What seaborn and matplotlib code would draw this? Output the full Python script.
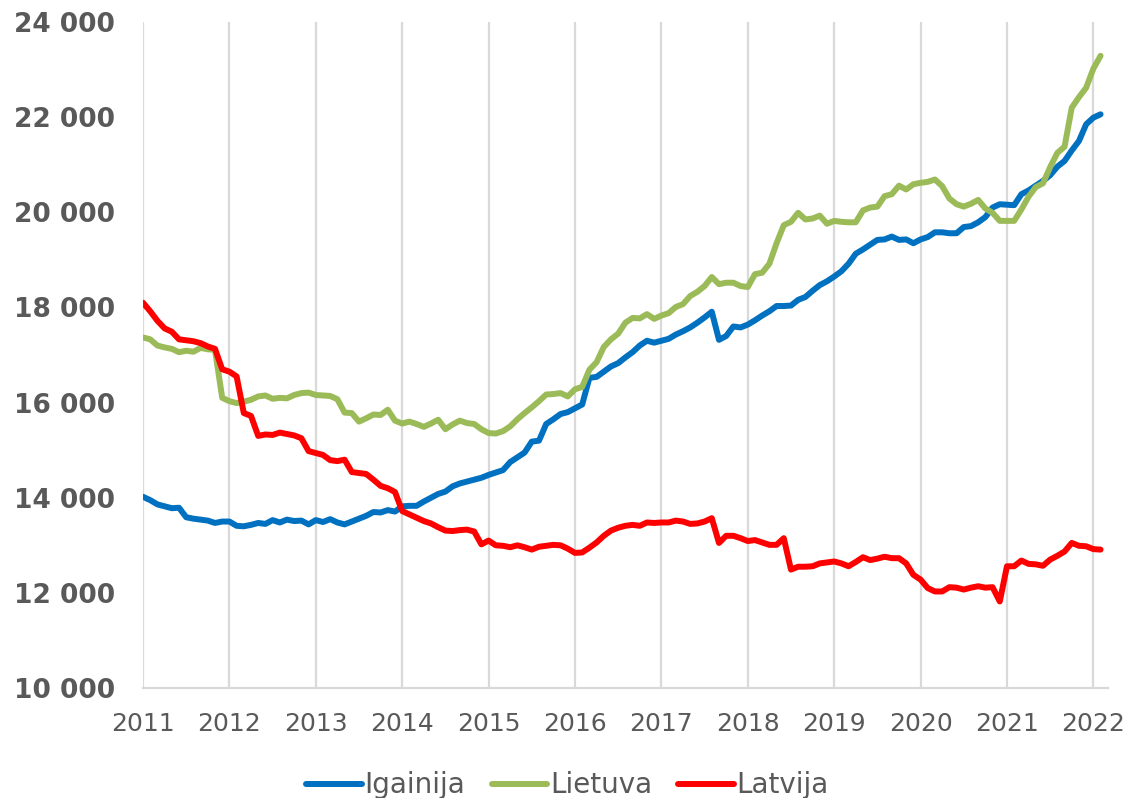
import numpy as np
import pandas as pd
import matplotlib
matplotlib.use("Agg")
import matplotlib.pyplot as plt
import seaborn as sns

# monthly values, Jan 2011 .. Feb 2022
years = list(range(2011, 2023))

igainija = [
    14020, 13950, 13860, 13820, 13780, 13790, 13590, 13560, 13540, 13520, 13470, 13500,
    13500, 13410, 13400, 13430, 13470, 13450, 13530, 13480, 13540, 13510, 13520, 13440,
    13530, 13490, 13550, 13480, 13440, 13500, 13560, 13620, 13700, 13690, 13740, 13710,
    13820, 13830, 13830, 13920, 14000, 14080, 14130, 14240, 14300, 14340, 14380, 14420,
    14480, 14530, 14580, 14750, 14850, 14950, 15180, 15200, 15550, 15650, 15760, 15800,
    15880, 15960, 16520, 16540, 16650, 16760, 16830, 16950, 17060, 17200, 17300, 17260,
    17300, 17340, 17430, 17500, 17580, 17680, 17790, 17910, 17320, 17400, 17600, 17580,
    17640, 17730, 17830, 17920, 18030, 18030, 18040, 18160, 18220, 18350, 18470, 18550,
    18650, 18760, 18920, 19130, 19220, 19320, 19420, 19430, 19490, 19420, 19430, 19350,
    19430, 19480, 19580, 19580, 19560, 19560, 19690, 19710, 19790, 19900, 20100, 20170,
    20160, 20150, 20380, 20460, 20560, 20660, 20780, 20960, 21080, 21300, 21500, 21850,
    21990, 22060,
]

lietuva = [
    17370, 17330, 17200, 17160, 17130, 17060, 17090, 17070, 17150, 17120, 17110, 16100,
    16030, 15990, 16020, 16060, 16130, 16150, 16080, 16100, 16090, 16160, 16200, 16210,
    16160, 16150, 16140, 16070, 15790, 15780, 15600, 15670, 15750, 15740, 15850, 15620,
    15560, 15600, 15550, 15490, 15560, 15640, 15440, 15540, 15620, 15570, 15550, 15440,
    15360, 15350, 15400, 15500, 15650, 15780, 15900, 16030, 16170, 16180, 16200, 16130,
    16280, 16330, 16690, 16850, 17170, 17330, 17450, 17680, 17780, 17770, 17860, 17760,
    17830, 17880, 18010, 18070, 18240, 18330, 18450, 18640, 18490, 18520, 18520, 18450,
    18430, 18700, 18730, 18920, 19350, 19730, 19800, 19990, 19850, 19870, 19930, 19760,
    19820, 19800, 19790, 19790, 20040, 20100, 20120, 20340, 20380, 20560, 20480, 20590,
    20620, 20640, 20690, 20550, 20290, 20170, 20120, 20180, 20260, 20080, 19990, 19820,
    19820, 19820, 20060, 20330, 20530, 20610, 20950, 21250, 21380, 22200, 22420, 22620,
    23020, 23290,
]

latvija = [
    18100, 17920, 17720, 17560, 17490, 17330, 17310, 17290, 17250, 17180, 17130, 16700,
    16650, 16550, 15780, 15720, 15300, 15330, 15320, 15370, 15340, 15310, 15250, 14980,
    14940, 14900, 14790, 14770, 14800, 14540, 14520, 14500, 14380, 14250, 14200, 14120,
    13720, 13650, 13580, 13510, 13460, 13380, 13310, 13300, 13320, 13330, 13290, 13020,
    13100, 13000, 12990, 12960, 13000, 12960, 12910, 12970, 12990, 13010, 13000, 12930,
    12840, 12850, 12950, 13060, 13200, 13310, 13370, 13410, 13430, 13410, 13480, 13470,
    13480, 13480, 13520, 13500, 13450, 13460, 13500, 13570, 13050, 13200, 13200, 13150,
    13090, 13110, 13060, 13010, 13010, 13150, 12490, 12550, 12550, 12560, 12620, 12640,
    12660, 12620, 12560, 12650, 12750, 12690, 12720, 12760, 12730, 12730, 12620, 12380,
    12280, 12100, 12030, 12030, 12120, 12110, 12070, 12110, 12140, 12110, 12120, 11820,
    12560, 12560, 12680, 12610, 12600, 12570, 12700, 12780, 12870, 13050, 12990, 12980,
    12920, 12910,
]

series = {"Igainija": igainija, "Lietuva": lietuva, "Latvija": latvija}
colors = {"Igainija": "#0070C0", "Lietuva": "#9BBB59", "Latvija": "#FF0000"}

frames = []
for name, vals in series.items():
    frames.append(pd.DataFrame({"month": np.arange(len(vals)), "value": vals, "country": name}))
df = pd.concat(frames, ignore_index=True)

sns.set_style("white")
plt.rcParams["font.family"] = ["DejaVu Sans"]

grey_txt = "#595959"
grey_line = "#D9D9D9"

fig = plt.figure(figsize=(11.35, 7.98), dpi=100)
ax = fig.add_axes([0.126, 0.1378, 0.850, 0.8346])

sns.lineplot(data=df, x="month", y="value", hue="country", palette=colors,
             hue_order=list(series.keys()), linewidth=4.3, ax=ax,
             solid_capstyle="round", solid_joinstyle="round")

ax.set_xlim(0, 134)
ax.set_ylim(10000, 24000)
ax.set_xticks([12 * i for i in range(len(years))])
ax.set_xticklabels([str(y) for y in years])
yt = np.arange(10000, 24001, 2000)
ax.set_yticks(yt)
ax.set_yticklabels([f"{v // 1000} 000" for v in yt], fontweight="bold")

ax.grid(axis="x", color=grey_line, linewidth=1.6)
ax.grid(axis="y", visible=False)
ax.set_axisbelow(True)
for side in ["top", "right", "left"]:
    ax.spines[side].set_visible(False)
ax.spines["bottom"].set_color(grey_line)
ax.spines["bottom"].set_linewidth(1.6)

ax.tick_params(axis="x", colors=grey_line, length=5, width=1.6, pad=12,
               labelsize=18, labelcolor=grey_txt)
ax.tick_params(axis="y", length=0, pad=20, labelsize=19, labelcolor=grey_txt)
ax.set_xlabel("")
ax.set_ylabel("")

sns.move_legend(ax, "center", bbox_to_anchor=(0.5, 0.016), bbox_transform=fig.transFigure,
                ncol=3, frameon=False, title=None, fontsize=20, handlelength=2.0,
                handletextpad=0.1, columnspacing=0.95, labelcolor=grey_txt)
for line in ax.get_legend().get_lines():
    line.set_linewidth(4.3)

fig.savefig("out.png", dpi=100)
